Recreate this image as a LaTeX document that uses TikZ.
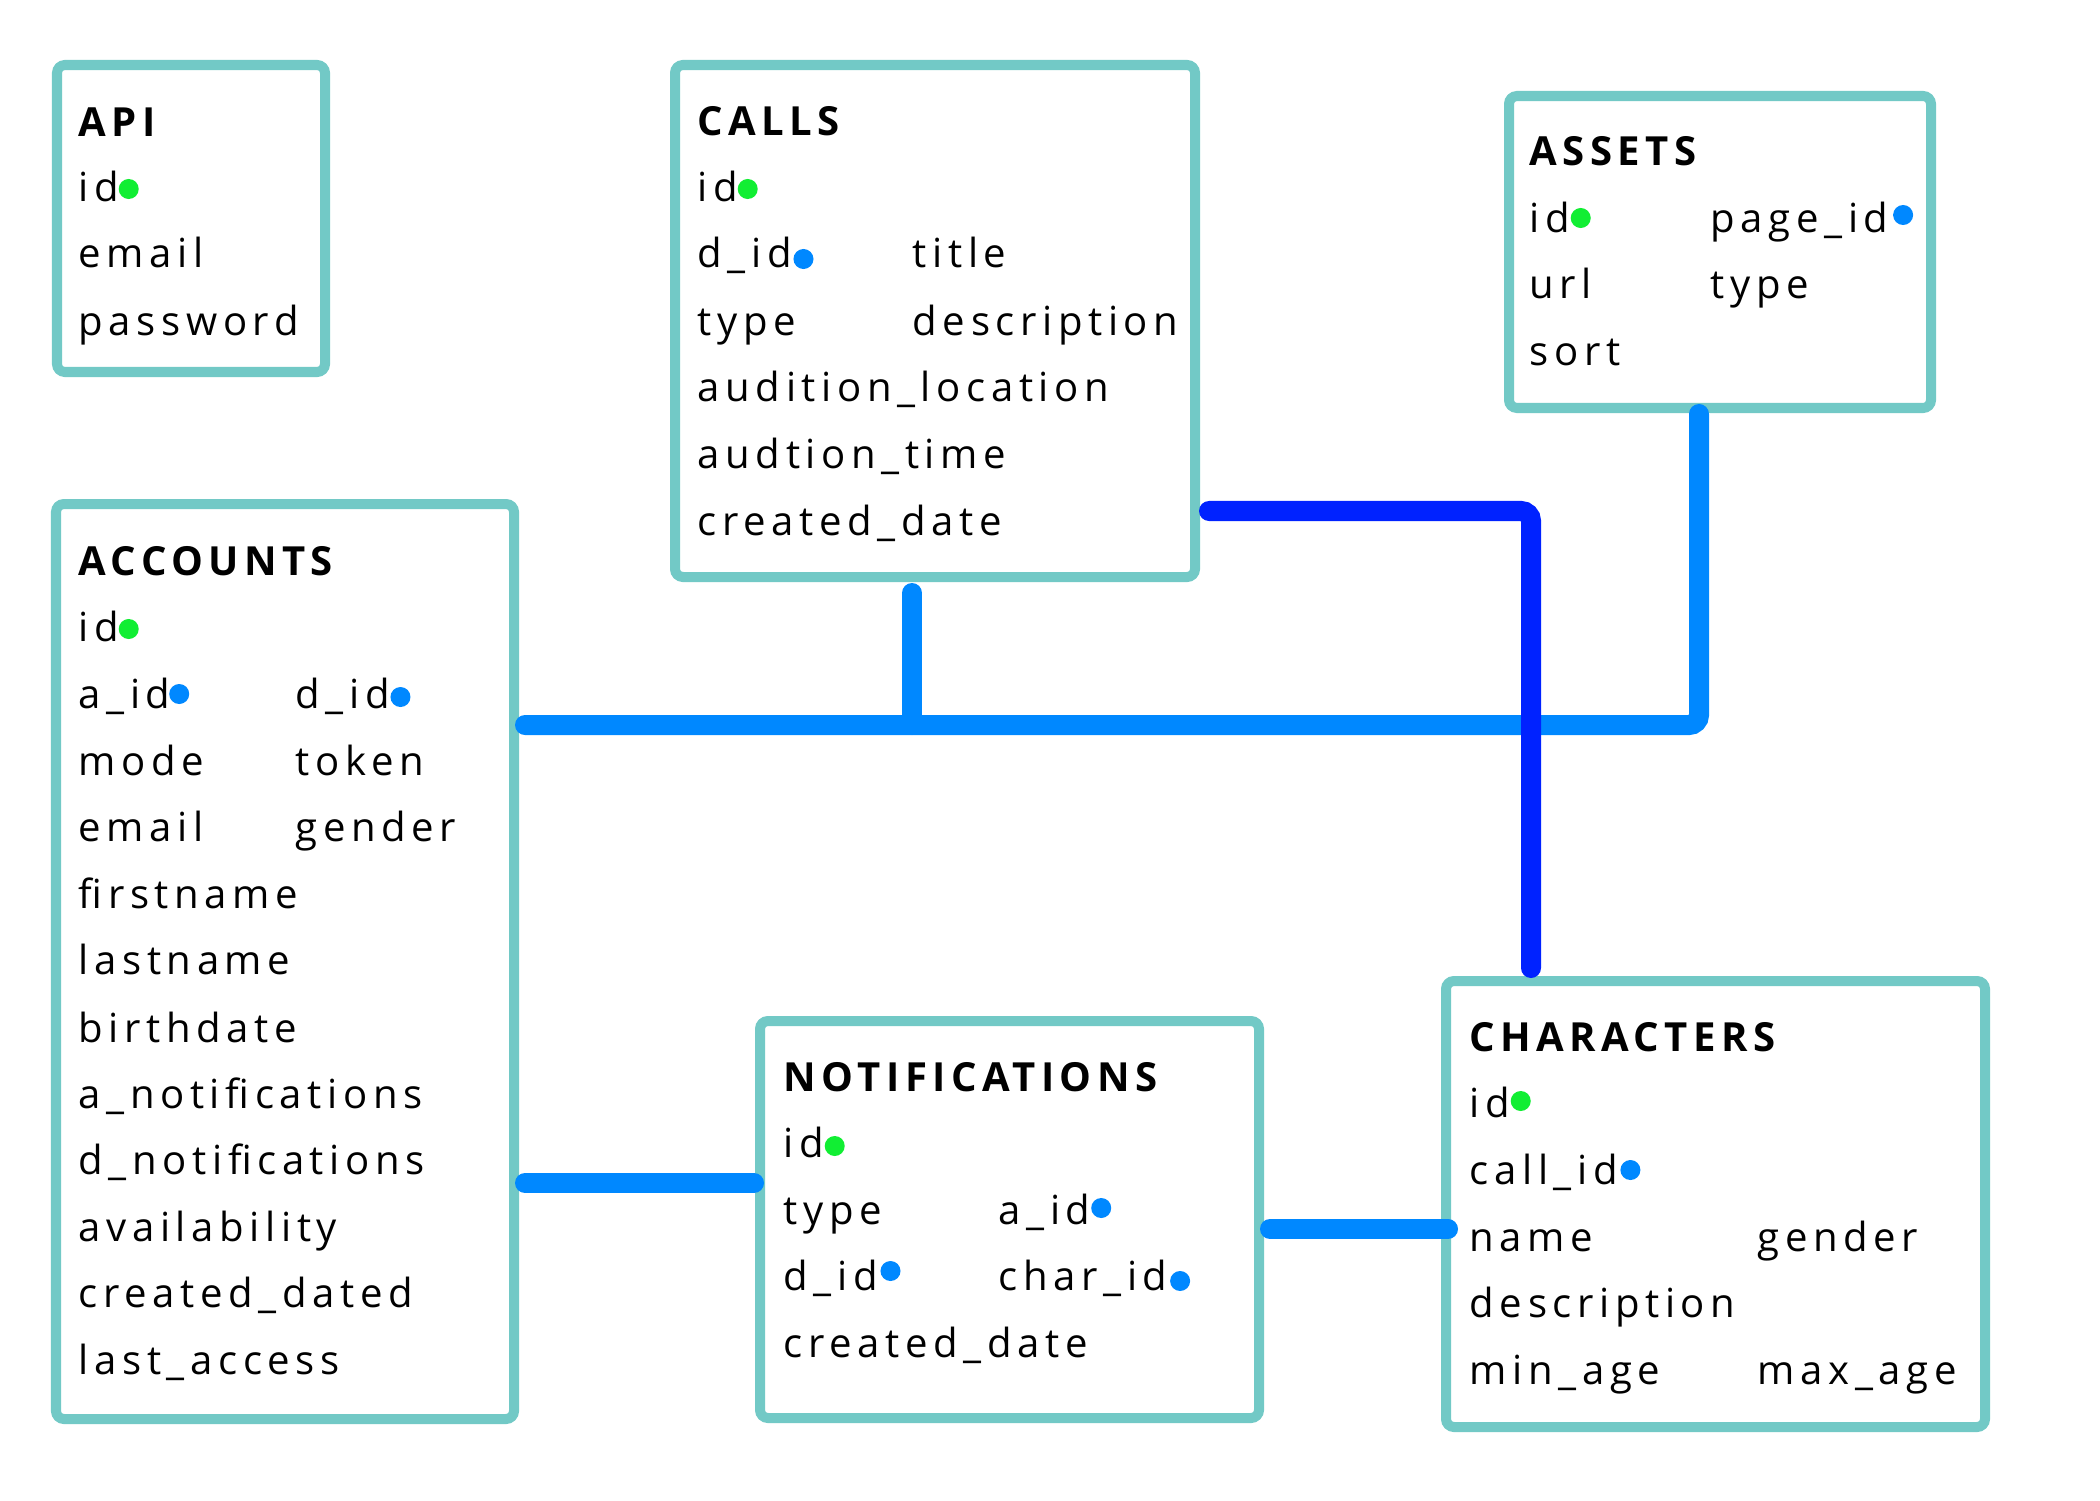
\documentclass[tikz,border=0pt]{standalone}
\usepackage{fontspec}
\setmainfont{Open Sans}
\newfontfamily\fieldfont{Open Sans}[LetterSpace=14]
\newfontfamily\titlefamily{Open Sans}[LetterSpace=13.5]
\usetikzlibrary{fit,calc}
\definecolor{boxteal}{HTML}{72C9C6}
\definecolor{linkblue}{HTML}{0088FF}
\definecolor{darkblue}{HTML}{0022FF}
\definecolor{pkgreen}{HTML}{11EE33}
\definecolor{fkblue}{HTML}{0088FF}
\begin{document}
\begin{tikzpicture}[x=0.01cm,y=-0.01cm,
  entity/.style={draw=boxteal, line width=0.1cm, fill=white, rounded corners=0.08cm, inner sep=0pt},
  fieldtxt/.style={anchor=base west, inner sep=0pt, font=\fontsize{11.4}{13}\fieldfont},
  enttitle/.style={anchor=base west, inner sep=0pt, font=\fontsize{11.4}{13}\titlefamily\bfseries},
  link/.style={draw=linkblue, line width=0.2cm, line cap=round, rounded corners=0.1cm},
  darklink/.style={link, draw=darkblue},
  pk/.style={circle, fill=pkgreen, inner sep=0pt, minimum size=0.2cm},
  fk/.style={circle, fill=fkblue, inner sep=0pt, minimum size=0.2cm}]
\fill[white] (0,0) rectangle (2100,1500);
\useasboundingbox (0,0) rectangle (2100,1500);

% entity boxes
\node[entity, fit={(57,65) (325,372)}] (api) {};
\node[entity, fit={(675,65) (1195,577)}] (calls) {};
\node[entity, fit={(1509,96) (1931,408)}] (assets) {};
\node[entity, fit={(56,504) (514,1419)}] (accounts) {};
\node[entity, fit={(760,1021) (1259,1418)}] (notif) {};
\node[entity, fit={(1446,981) (1985,1427)}] (chars) {};

% API
\node[enttitle] (api-t) at (78,137) {API};
\node[fieldtxt] (api-id) at (78,202) {id};
\node[fieldtxt] (api-email) at (78,268) {email};
\node[fieldtxt] (api-pw) at (78,335) {password};
\node[pk] (api-idd) at ($(api-id.base east)+(9,-13)$) {};

% CALLS
\node[enttitle] (calls-t) at (697,136) {CALLS};
\node[fieldtxt] (calls-id) at (697,202) {id};
\node[fieldtxt] (calls-did) at (697,268) {d\_id};
\node[fieldtxt] (calls-title) at (912,268) {title};
\node[fieldtxt] (calls-type) at (697,335) {type};
\node[fieldtxt] (calls-desc) at (912,335) {description};
\node[fieldtxt] (calls-loc) at (697,401) {audition\_location};
\node[fieldtxt] (calls-time) at (697,468) {audtion\_time};
\node[fieldtxt] (calls-cd) at (697,535) {created\_date};
\node[pk] (calls-idd) at ($(calls-id.base east)+(9,-13)$) {};
\node[fk] (calls-didd) at ($(calls-did.base east)+(11,-9)$) {};

% ASSETS
\node[enttitle] (assets-t) at (1529,166) {ASSETS};
\node[fieldtxt] (assets-id) at (1529,232) {id};
\node[fieldtxt] (assets-pid) at (1710,232) {page\_id};
\node[fieldtxt] (assets-url) at (1529,298) {url};
\node[fieldtxt] (assets-type) at (1710,298) {type};
\node[fieldtxt] (assets-sort) at (1529,365) {sort};
\node[pk] (assets-idd) at ($(assets-id.base east)+(10,-14)$) {};
\node[fk] (assets-pidd) at ($(assets-pid.base east)+(14,-17)$) {};

% ACCOUNTS
\node[enttitle] (acc-t) at (78,575) {ACCOUNTS};
\node[fieldtxt] (acc-id) at (78,641) {id};
\node[fieldtxt] (acc-aid) at (78,708) {a\_id};
\node[fieldtxt] (acc-did) at (295,708) {d\_id};
\node[fieldtxt] (acc-mode) at (78,775) {mode};
\node[fieldtxt] (acc-token) at (295,775) {token};
\node[fieldtxt] (acc-email) at (78,841) {email};
\node[fieldtxt] (acc-gender) at (295,841) {gender};
\node[fieldtxt] (acc-first) at (78,908) {firstname};
\node[fieldtxt] (acc-last) at (78,974) {lastname};
\node[fieldtxt] (acc-birth) at (78,1042) {birthdate};
\node[fieldtxt] (acc-an) at (78,1108) {a\_notifications};
\node[fieldtxt] (acc-dn) at (78,1174) {d\_notifications};
\node[fieldtxt] (acc-av) at (78,1241) {availability};
\node[fieldtxt] (acc-cd) at (78,1307) {created\_dated};
\node[fieldtxt] (acc-la) at (78,1374) {last\_access};
\node[pk] (acc-idd) at ($(acc-id.base east)+(9,-12)$) {};
\node[fk] (acc-aidd) at ($(acc-aid.base east)+(8,-14)$) {};
\node[fk] (acc-didd) at ($(acc-did.base east)+(10,-11)$) {};

% NOTIFICATIONS
\node[enttitle] (notif-t) at (783,1091) {NOTIFICATIONS};
\node[fieldtxt] (notif-id) at (783,1157) {id};
\node[fieldtxt] (notif-type) at (783,1224) {type};
\node[fieldtxt] (notif-aid) at (998,1224) {a\_id};
\node[fieldtxt] (notif-did) at (783,1290) {d\_id};
\node[fieldtxt] (notif-cid) at (998,1290) {char\_id};
\node[fieldtxt] (notif-cd) at (783,1357) {created\_date};
\node[pk] (notif-idd) at ($(notif-id.base east)+(10,-11)$) {};
\node[fk] (notif-aidd) at ($(notif-aid.base east)+(10,-16)$) {};
\node[fk] (notif-didd) at ($(notif-did.base east)+(12,-19)$) {};
\node[fk] (notif-cidd) at ($(notif-cid.base east)+(12,-9)$) {};

% CHARACTERS
\node[enttitle] (chars-t) at (1469,1051) {CHARACTERS};
\node[fieldtxt] (chars-id) at (1469,1117) {id};
\node[fieldtxt] (chars-cid) at (1469,1184) {call\_id};
\node[fieldtxt] (chars-name) at (1469,1251) {name};
\node[fieldtxt] (chars-gender) at (1757,1251) {gender};
\node[fieldtxt] (chars-desc) at (1469,1317) {description};
\node[fieldtxt] (chars-min) at (1469,1384) {min\_age};
\node[fieldtxt] (chars-max) at (1757,1384) {max\_age};
\node[pk] (chars-idd) at ($(chars-id.base east)+(10,-16)$) {};
\node[fk] (chars-cidd) at ($(chars-cid.base east)+(12,-14)$) {};

% connectors
\coordinate (j1) at (1699,725);
\coordinate (j2) at (912,725);
\coordinate (j3) at (1531,511);
\coordinate (j4) at (0,1183);
\coordinate (j5) at (0,1229);
\draw[link] ([xshift=0.06cm]accounts.east |- j1) -- (j1) -- ([yshift=-0.01cm]assets.south -| j1);
\draw[link] ([yshift=-0.11cm]calls.south -| j2) -- (j2);
\draw[link] ([xshift=0.06cm]accounts.east |- j4) -- ([xshift=-0.01cm]notif.west |- j4);
\draw[link] ([xshift=0.06cm]notif.east |- j5) -- ([xshift=0.07cm]chars.west |- j5);
\draw[darklink] ([xshift=0.09cm]calls.east |- j3) -- (j3) -- ([yshift=0.08cm]chars.north -| j3);
\end{tikzpicture}
\end{document}
